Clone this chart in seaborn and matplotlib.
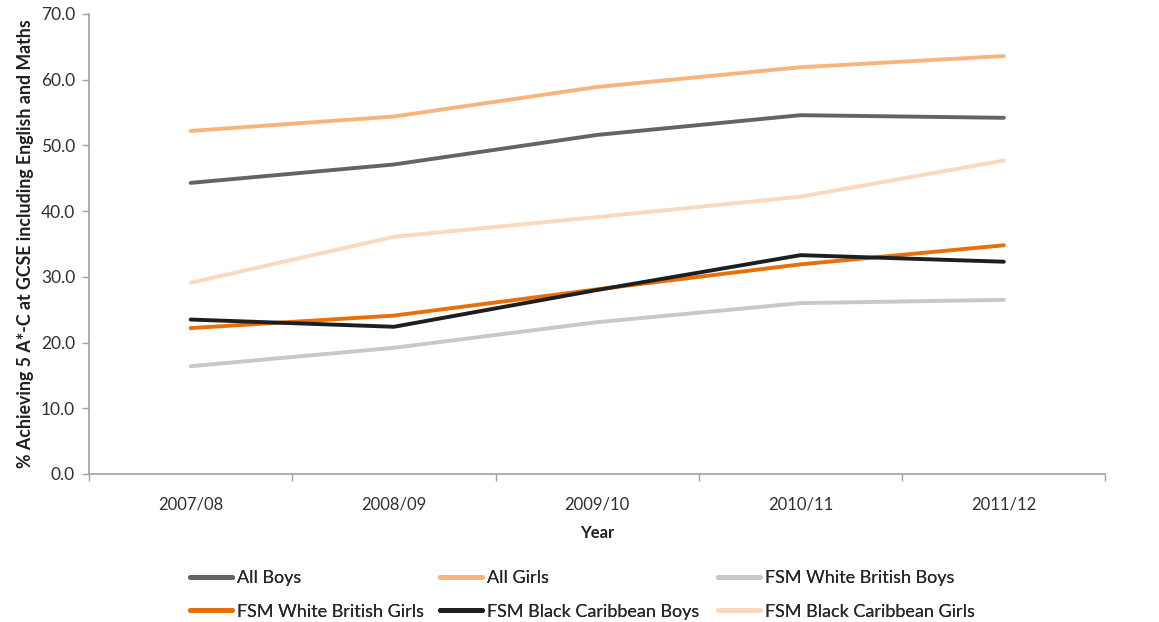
import matplotlib
matplotlib.use("Agg")
import matplotlib.pyplot as plt
import seaborn as sns
import pandas as pd
from matplotlib.ticker import FixedLocator

years = ["2007/08", "2008/09", "2009/10", "2010/11", "2011/12"]
all_boys = [44.3, 47.1, 51.6, 54.6, 54.2]
all_girls = [52.2, 54.4, 58.9, 61.9, 63.6]
fsm_wb_boys = [16.4, 19.2, 23.1, 26.0, 26.5]
fsm_wb_girls = [22.2, 24.1, 28.1, 31.9, 34.8]
fsm_bc_boys = [23.5, 22.4, 28.0, 33.3, 32.3]
fsm_bc_girls = [29.1, 36.1, 39.1, 42.2, 47.7]

series_names = ["All Boys", "All Girls", "FSM White British Boys",
                "FSM White British Girls", "FSM Black Caribbean Boys",
                "FSM Black Caribbean Girls"]
series_values = [all_boys, all_girls, fsm_wb_boys, fsm_wb_girls, fsm_bc_boys, fsm_bc_girls]
colors = ["#646464", "#F7B57E", "#C8C8C8", "#E8700A", "#1E1E1E", "#FCD9BC"]

rows = []
for name, vals in zip(series_names, series_values):
    for y, v in zip(years, vals):
        rows.append({"Year": y, "Value": v, "Series": name})
df = pd.DataFrame(rows)

sns.set_theme(style="white")
plt.rcParams["font.family"] = ["Lato", "DejaVu Sans"]

W, H = 1159, 622
fig = plt.figure(figsize=(W / 100, H / 100), dpi=100)
ax = fig.add_axes([0.0768, 0.238, 0.877, 0.7395])

sns.lineplot(data=df, x="Year", y="Value", hue="Series", hue_order=series_names,
             palette=dict(zip(series_names, colors)), linewidth=2.8, sort=False,
             ax=ax, legend=False, solid_capstyle="round")

ax.set_xlim(-0.5, 4.5)
ax.set_ylim(0, 70)
ax.set_yticks(range(0, 71, 10))
ax.set_yticklabels([f"{v:.1f}" for v in range(0, 71, 10)], fontsize=12.5, color="#303030")
ax.set_xticks(range(len(years)))
ax.set_xticklabels(years, fontsize=12, color="#303030")
ax.xaxis.set_minor_locator(FixedLocator([i - 0.5 for i in range(len(years) + 1)]))
ax.tick_params(axis="x", which="major", length=0, pad=16)
ax.tick_params(axis="x", which="minor", length=5, color="#A0A0A0", width=1, bottom=True)
ax.tick_params(axis="y", which="major", length=5, color="#A0A0A0", width=1, left=True, pad=5)

for s in ["top", "right"]:
    ax.spines[s].set_visible(False)
for s in ["left", "bottom"]:
    ax.spines[s].set_color("#A0A0A0")
    ax.spines[s].set_linewidth(1.2)

ax.set_xlabel("Year", fontsize=12, fontweight="bold", color="#202020", labelpad=9)
ax.set_ylabel("% Achieving 5 A*-C at GCSE including English and Maths", fontsize=12.8,
              fontweight="bold", color="#202020", labelpad=5)

handles = [plt.Line2D([], [], color=c, linewidth=3.5) for c in colors]
col_x = [190, 440, 718]
for ci, x0 in enumerate(col_x):
    idx = [ci, ci + 3]
    leg = fig.legend([handles[i] for i in idx], [series_names[i] for i in idx],
                     loc="center left", bbox_to_anchor=((x0 - 14) / W, 1 - 595 / H),
                     frameon=False, fontsize=13, handlelength=2.3, handletextpad=0.3,
                     labelspacing=0.95, borderpad=0.3)
    fig.add_artist(leg)

fig.savefig("out.png", dpi=100)
